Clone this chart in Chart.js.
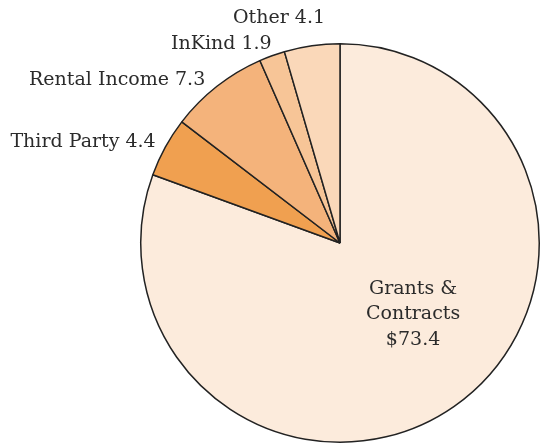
<!DOCTYPE html>
<html>
<head>
<meta charset="utf-8">
<script src="https://cdn.jsdelivr.net/npm/chart.js@4"></script>
<style>
    html, body { margin: 0; padding: 0; background: #fff; overflow: hidden; }
    #wrap { width: 560px; height: 444px; }
</style>
</head>
<body>
<div id="wrap"><canvas id="receitas"></canvas></div>
<script>
const categorias = ['Grants & Contracts', 'Third Party', 'Rental Income', 'InKind', 'Other'];
const valores = [73.4, 4.4, 7.3, 1.9, 4.1];
const rotulos = ['$73.4', '4.4', '7.3', '1.9', '4.1'];
const cores = ['#fcebdc', '#f0a050', '#f4b37b', '#f7c597', '#fad8b9'];

const fonte = '19px "DejaVu Serif"';

// desenha os rotulos fora da pizza (e o de Grants dentro)
const rotulosPlugin = {
    id: 'rotulosPizza',
    afterDatasetsDraw(chart) {
        const ctx = chart.ctx;
        const meta = chart.getDatasetMeta(0);
        // [afastamento radial, giro em graus] de cada rotulo externo
        const ajuste = [[0, 0], [11, 0], [12, -1.5], [11, 1], [26, 4.3]];
        ctx.save();
        ctx.font = fonte;
        ctx.fillStyle = '#2b2b2b';
        ctx.textBaseline = 'middle';
        meta.data.forEach((arc, i) => {
            const { x, y, startAngle, endAngle, outerRadius } = arc.getProps(['x', 'y', 'startAngle', 'endAngle', 'outerRadius'], true);
            const meio = (startAngle + endAngle) / 2;
            if (i === 0) {
                const a = meio - 11 * Math.PI / 180;
                const r = outerRadius * 0.51;
                const px = x + r * Math.cos(a);
                const py = y + r * Math.sin(a);
                ctx.textAlign = 'center';
                ctx.fillText('Grants &', px, py - 25);
                ctx.fillText('Contracts', px, py);
                ctx.fillText(rotulos[i], px, py + 26);
            } else {
                const r = outerRadius + ajuste[i][0];
                const a = meio + ajuste[i][1] * Math.PI / 180;
                const px = x + r * Math.cos(a);
                const py = y + r * Math.sin(a);
                ctx.textAlign = 'right';
                ctx.fillText(categorias[i] + ' ' + rotulos[i], px, py);
            }
        });
        ctx.restore();
    }
};

new Chart(document.getElementById('receitas'), {
    type: 'pie',
    data: {
        labels: categorias,
        datasets: [{
            data: valores,
            backgroundColor: cores,
            borderColor: '#222222',
            borderWidth: 1.5
        }]
    },
    options: {
        responsive: true,
        maintainAspectRatio: false,
        animation: false,
        layout: {
            padding: { left: 140, right: 20, top: 43, bottom: 1 }
        },
        plugins: {
            legend: { display: false },
            tooltip: { enabled: false }
        }
    },
    plugins: [rotulosPlugin]
});
</script>
</body>
</html>
